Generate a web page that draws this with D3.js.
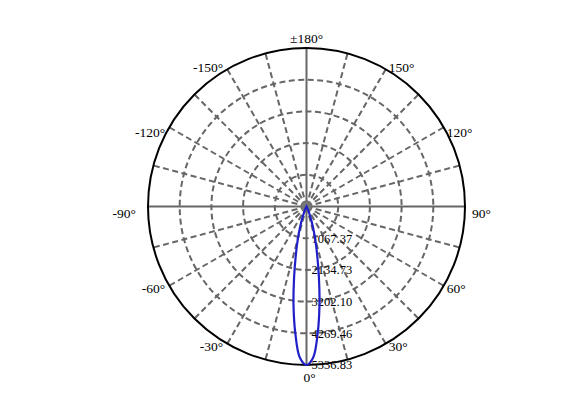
<!DOCTYPE html>
<html><head><meta charset="utf-8">
<script src="https://cdn.jsdelivr.net/npm/d3@7"></script>
<style>html,body{margin:0;padding:0;background:#fff;}svg{display:block;}text{font-family:'Liberation Serif','Times New Roman',serif;}</style>
</head><body>
<svg id="c" width="574" height="402"></svg>
<script>
// Data
const beamAngles = [-30,-25,-22.5,-20,-17.5,-15,-12.5,-10,-7.5,-5,-2.5,0,2.5,5,7.5,10,12.5,15,17.5,20,22.5,25,30];
const beamValues = [0,110,220,400,700,1120,1650,2400,3350,4300,5100,5336.83,5100,4300,3350,2400,1650,1120,700,400,220,110,0];
const ringValues = [1067.37,2134.73,3202.10,4269.46,5336.83];
const ringLabels = ["1067.37","2134.73","3202.10","4269.46","5336.83"];
const spokeAngles = [0,15,30,45,60,75,90,105,120,135,150,165,180,195,210,225,240,255,270,285,300,315,330,345];
const degAngles = [0,30,60,90,120,150,180,-150,-120,-90,-60,-30];
const degLabels = ["0°","30°","60°","90°","120°","150°","±180°","-150°","-120°","-90°","-60°","-30°"];

const W=574,H=402, cx=306.5, cy=206.5, R=158.5;
const svg=d3.select("#c");
const g=svg.append("g").attr("transform",`translate(${cx},${cy})`);
const r=d3.scaleLinear().domain([0,5336.83]).range([0,R]);
const rad=d=>d*Math.PI/180;
const px=(a,rr)=>rr*Math.sin(rad(a));
const py=(a,rr)=>rr*Math.cos(rad(a));

// rings
g.selectAll("circle.ring").data(ringValues.slice(0,4)).join("circle")
 .attr("r",d=>r(d)).attr("fill","none").attr("stroke","#666").attr("stroke-width",2)
 .attr("stroke-dasharray","6,3.5");
// spokes
g.selectAll("line.spoke").data(spokeAngles).join("line")
 .attr("x1",0).attr("y1",0)
 .attr("x2",d=>px(d,R)).attr("y2",d=>py(d,R))
 .attr("stroke","#666").attr("stroke-width",2)
 .attr("stroke-dasharray",d=>d%90===0?null:"6,3.5");
g.append("circle").attr("r",5).attr("fill","#777");
// outer
g.append("circle").attr("r",R).attr("fill","none").attr("stroke","#000").attr("stroke-width",2);

// ring labels
g.selectAll("text.rl").data(ringValues).join("text")
 .attr("x",5).attr("y",d=>r(d)).attr("dy","0.35em")
 .attr("font-size",12.5)
 .attr("fill","#000").text((d,i)=>ringLabels[i]);

// beam curve
const pts=beamAngles.map((a,i)=>[Math.PI-rad(a), r(beamValues[i])]);
const line=d3.lineRadial().angle(d=>d[0]).radius(d=>d[1]).curve(d3.curveCatmullRomClosed.alpha(0.5));
g.append("path").attr("d",line(pts)).attr("fill","none").attr("stroke","#2020c8").attr("stroke-width",2.2);

// degree labels
g.selectAll("text.dl").data(degAngles).join("text")
 .attr("font-size",13.5).attr("fill","#000")
 .each(function(a,i){
   const t=d3.select(this); const x=px(a,R), y=py(a,R);
   const s=Math.abs(Math.sin(rad(a)));
   const aa=Math.abs(a);
   const off = aa===90 ? 11 : (aa>90 ? -6+18*s : 7);
   if(a===0){ t.attr("x",x+3).attr("y",y+17).attr("text-anchor","middle"); }
   else if(a===180){ t.attr("x",x).attr("y",y-5).attr("text-anchor","middle"); }
   else if(a>0){ t.attr("x",x+(a===90?7:3)).attr("y",y+off).attr("text-anchor","start"); }
   else { t.attr("x",x-(a===-90?12:4)).attr("y",y+off).attr("text-anchor","end"); }
   t.text(degLabels[i]);
 });
</script>
</body></html>
